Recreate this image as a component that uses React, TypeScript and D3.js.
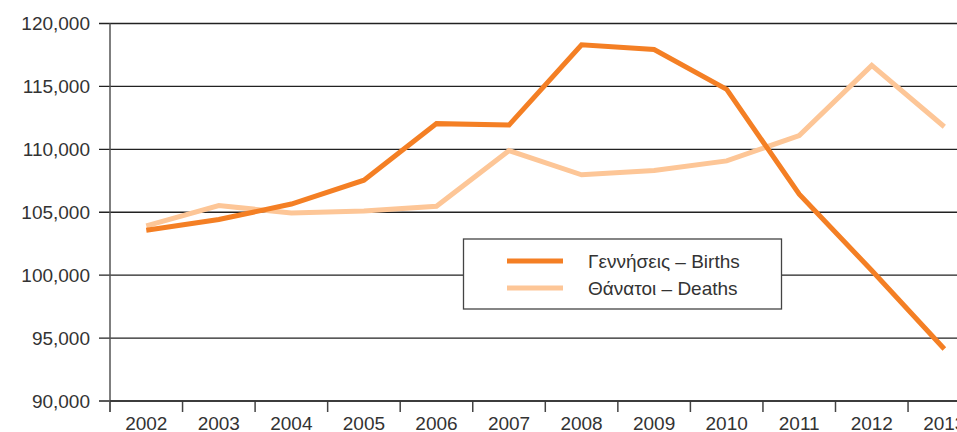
import React from "react";
import * as d3 from "d3";

const years = ["2002","2003","2004","2005","2006","2007","2008","2009","2010","2011","2012","2013"];
const births = [103569,104420,105655,107545,112042,111926,118302,117933,114766,106428,100371,94134];
const deaths = [103915,105529,104942,105091,105476,109895,107979,108316,109084,111099,116668,111794];
const yTicks = [90000,95000,100000,105000,110000,115000,120000];
const seriesNames = ["Γεννήσεις – Births","Θάνατοι – Deaths"];
const seriesColors = ["#F47F24","#FDC697"];

const W = 957, H = 432;
const left = 110, top = 23.5, bottom = 401;
const bandW = 72.55;

export default function App() {
  const x = d3.scaleBand<string>().domain(years).range([left, left + bandW * years.length]).paddingInner(0).paddingOuter(0);
  const y = d3.scaleLinear().domain([90000, 120000]).range([bottom, top]);
  const fmt = d3.format(",");
  const line = d3.line<number>()
    .x((_, i) => (x(years[i]) as number) + x.bandwidth() / 2)
    .y((v) => y(v));
  const font = "'Liberation Sans', Arial, Helvetica, sans-serif";
  const boundaries = years.map((yr) => x(yr) as number).concat([left + bandW * years.length]);
  const legX = 463.5, legY = 239, legW = 318, legH = 70;
  return (
    <svg width={W} height={H} style={{ position: "absolute", left: 0, top: 0, background: "#fff" }} fontFamily={font}>
      {yTicks.map((t) => (
        <g key={t}>
          <line x1={99} x2={W} y1={y(t)} y2={y(t)} stroke="#222" strokeWidth={1.3} />
          <text x={90} y={y(t)} dy="0.35em" textAnchor="end" fontSize={19} fill="#333">{fmt(t)}</text>
        </g>
      ))}
      {boundaries.map((b, i) => (
        <line key={i} x1={b} x2={b} y1={bottom} y2={412} stroke="#444" strokeWidth={1.5} />
      ))}
      <line x1={left} x2={left} y1={top} y2={412} stroke="#555" strokeWidth={1.5} />
      <line x1={left} x2={W} y1={bottom} y2={bottom} stroke="#333" strokeWidth={1.5} />
      {years.map((yr) => (
        <text key={yr} x={(x(yr) as number) + x.bandwidth() / 2} y={429.5} textAnchor="middle" fontSize={19} fill="#333">{yr}</text>
      ))}
      <path d={line(deaths) || ""} fill="none" stroke={seriesColors[1]} strokeWidth={5} strokeLinejoin="miter" />
      <path d={line(births) || ""} fill="none" stroke={seriesColors[0]} strokeWidth={5} strokeLinejoin="miter" />
      <rect x={legX} y={legY} width={legW} height={legH} fill="#fff" stroke="#444" strokeWidth={1.3} />
      {seriesNames.map((n, i) => (
        <g key={n}>
          <line x1={507} x2={563} y1={261 + i * 27} y2={261 + i * 27} stroke={seriesColors[i]} strokeWidth={5} />
          <text x={588} y={261 + i * 27} dy="0.35em" fontSize={19} fill="#333">{n}</text>
        </g>
      ))}
    </svg>
  );
}
